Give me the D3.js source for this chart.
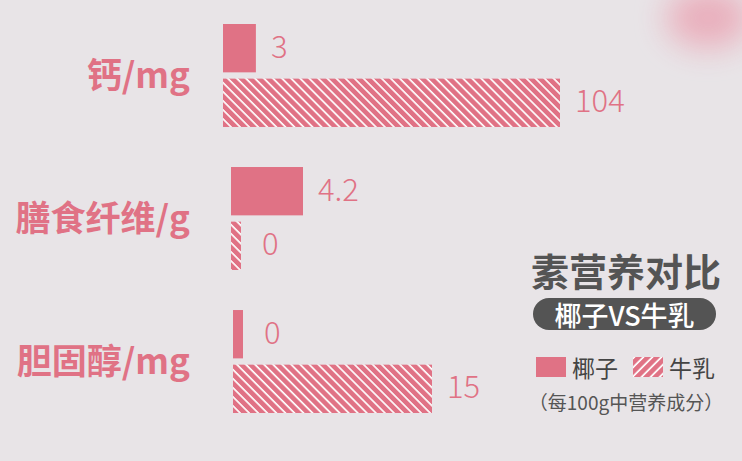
<!DOCTYPE html>
<html><head><meta charset="utf-8">
<script src="https://cdn.jsdelivr.net/npm/d3@7"></script>
<style>
html,body{margin:0;padding:0;background:#e8e4e7;}
svg{display:block;font-family:"Noto Sans CJK SC","Noto Sans",sans-serif;}
</style></head>
<body><svg id="c" width="742" height="461"></svg>
<script>
// ---- data ----
const categories = ["钙/mg", "膳食纤维/g", "胆固醇/mg"];
const seriesNames = ["椰子", "牛乳"];
const coconut = [3, 4.2, 0];
const milk = [104, 0, 15];
const valueLabels = [["3", "104"], ["4.2", "0"], ["0", "15"]];
const title = "素营养对比";
const badge = "椰子VS牛乳";
const note = "（每100g中营养成分）";

// ---- layout (not data) ----
const W = 742, H = 461;
const pink = "#e07285", dark = "#545454";
const originX = [223, 231, 233];
const maxLen = [337, 72, 199];
const stub = 10;

const svg = d3.select("#c");
const defs = svg.append("defs");

// background + soft blob
const f = defs.append("filter").attr("id", "blur").attr("x", "-100%").attr("y", "-100%")
  .attr("width", "300%").attr("height", "300%");
f.append("feGaussianBlur").attr("stdDeviation", 16);
svg.append("rect").attr("width", W).attr("height", H).attr("fill", "#e8e4e7");
svg.append("ellipse").attr("cx", 708).attr("cy", 18).attr("rx", 42).attr("ry", 30)
  .attr("fill", "#eaa9b7").attr("opacity", 0.9).attr("filter", "url(#blur)");

function hatch(id, angle) {
  const p = defs.append("pattern").attr("id", id).attr("patternUnits", "userSpaceOnUse")
    .attr("width", 6.4).attr("height", 6.4).attr("patternTransform", `rotate(${angle})`);
  p.append("rect").attr("width", 6.4).attr("height", 6.4).attr("fill", pink);
  p.append("line").attr("x1", 1).attr("x2", 1).attr("y1", 0).attr("y2", 6.4)
    .attr("stroke", "#fff").attr("stroke-width", 1.7);
}
hatch("hatchBack", -45);
hatch("hatchFwd", 45);

const y = d3.scaleBand().domain(categories).range([24, 413]).paddingInner(0.28);
const ySub = d3.scaleBand().domain(seriesNames).range([0, y.bandwidth()]).paddingInner(0.115);

const rows = categories.map((c, i) => ({
  cat: c, i,
  vals: [{ s: seriesNames[0], v: coconut[i], lab: valueLabels[i][0] },
         { s: seriesNames[1], v: milk[i], lab: valueLabels[i][1] }]
}));

const g = svg.selectAll("g.grp").data(rows).join("g").attr("class", "grp")
  .attr("transform", d => `translate(0,${y(d.cat)})`);

g.append("text")
  .attr("x", 190).attr("y", y.bandwidth() / 2 - 3)
  .attr("text-anchor", "end").attr("dominant-baseline", "central")
  .attr("font-size", 35).attr("font-weight", 700).attr("fill", pink)
  .text(d => d.cat);

g.each(function (d) {
  const max = d3.max(d.vals, e => e.v);
  const x = d3.scalePow().exponent(0.75).domain([0, max]).range([stub, maxLen[d.i]]);
  const sel = d3.select(this);
  sel.selectAll("rect.bar").data(d.vals).join("rect").attr("class", "bar")
    .attr("x", originX[d.i]).attr("y", e => ySub(e.s))
    .attr("width", e => x(e.v)).attr("height", ySub.bandwidth())
    .attr("fill", e => e.s === seriesNames[0] ? pink : "url(#hatchBack)");
  sel.selectAll("text.val").data(d.vals).join("text").attr("class", "val")
    .attr("x", e => originX[d.i] + x(e.v) + (e.v === 0 ? 21 : 15))
    .attr("y", e => ySub(e.s) + ySub.bandwidth() / 2 - 4)
    .attr("dominant-baseline", "central")
    .attr("font-size", 31).attr("font-weight", 300).attr("fill", pink)
    .text(e => e.lab);
});

// title block
svg.append("text").attr("x", 626).attr("y", 269).attr("text-anchor", "middle")
  .attr("dominant-baseline", "central").attr("font-size", 38).attr("font-weight", 700)
  .attr("fill", dark).text(title);
svg.append("rect").attr("x", 533).attr("y", 298).attr("width", 183).attr("height", 32)
  .attr("rx", 16).attr("fill", dark);
svg.append("text").attr("x", 624.5).attr("y", 314).attr("text-anchor", "middle")
  .attr("dominant-baseline", "central").attr("font-size", 27).attr("font-weight", 500)
  .attr("fill", "#fff").text(badge);

// legend
const legX = [536, 633];
const leg = svg.selectAll("g.leg").data(seriesNames).join("g").attr("class", "leg")
  .attr("transform", (d, i) => `translate(${legX[i]},357)`);
leg.append("rect").attr("width", 30).attr("height", 20)
  .attr("fill", (d, i) => i === 0 ? pink : "url(#hatchFwd)");
leg.append("text").attr("x", 36).attr("y", 10).attr("dominant-baseline", "central")
  .attr("font-size", 23).attr("fill", "#444").text(d => d);

svg.append("text").attr("x", 626).attr("y", 401).attr("text-anchor", "middle")
  .attr("dominant-baseline", "central").attr("font-size", 19).attr("fill", "#555")
  .text(note);
</script></body></html>
